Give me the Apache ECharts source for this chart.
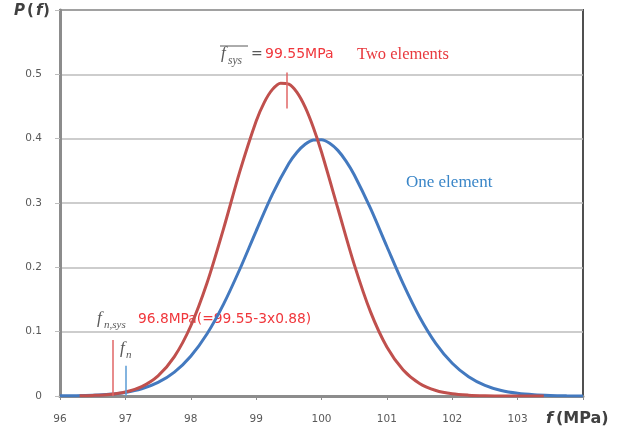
<!DOCTYPE html>
<html>
<head>
<meta charset="utf-8">
<script src="https://cdn.jsdelivr.net/npm/echarts@6/dist/echarts.min.js"></script>
<style>
html, body { margin: 0; padding: 0; background: #fff; }
#chart { width: 630px; height: 431px; }
</style>
</head>
<body>
<div id="chart"></div>
<script>
// strength f (MPa) and probability density
var xOne = [96, 96.25, 96.5, 96.75, 97, 97.25, 97.5, 97.75, 98, 98.25, 98.5, 98.75, 99, 99.25, 99.5, 99.625, 99.75, 99.875,
            100, 100.125, 100.25, 100.375, 100.5, 100.75, 101, 101.25, 101.5, 101.75, 102, 102.25, 102.5, 102.75, 103, 103.25, 103.5, 103.75, 104]
var pOne = [0.0002, 0.0005, 0.0012, 0.0026, 0.0056, 0.0112, 0.0211, 0.0372, 0.0619, 0.0968, 0.1424, 0.197, 0.2564, 0.3138, 0.3613, 0.3789, 0.3913, 0.3979,
            0.3985, 0.393, 0.3818, 0.3651, 0.344, 0.2916, 0.2324, 0.1743, 0.1229, 0.0815, 0.0509, 0.0299, 0.0165, 0.0086, 0.0042, 0.0019, 0.0008, 0.0003, 0.0001]

var xTwo = [96.3, 96.5, 96.75, 97, 97.25, 97.5, 97.75, 98, 98.25, 98.5, 98.75, 99, 99.125, 99.25, 99.375, 99.5, 99.625, 99.75, 99.875,
            100, 100.25, 100.5, 100.75, 101, 101.25, 101.5, 101.75, 102, 102.25, 102.5, 102.75, 103, 103.25, 103.4]
var pTwo = [0.0004, 0.0009, 0.0024, 0.0063, 0.0147, 0.0314, 0.0612, 0.1088, 0.176, 0.2595, 0.3488, 0.4271, 0.4565, 0.4766, 0.4863, 0.4847, 0.472, 0.4491, 0.4175,
            0.3792, 0.2918, 0.2046, 0.1307, 0.0761, 0.0404, 0.0195, 0.0086, 0.0034, 0.0013, 0.0004, 0.0001, 0, 0, 0]

var xTicks = [96, 97, 98, 99, 100, 101, 102, 103]
var meanTwo = 99.47     // f_sys marker
var fnSys = 96.8        // f_n,sys
var fn = 97.0           // f_n

var RED = '#c0504d', BLUE = '#4379bf'

function pairs(xs, ys){
	return xs.map(function(x, i){ return [x, ys[i]] })
}

var chart = echarts.init(document.getElementById('chart'))

function txt(x, y, text, style){
	return { type: 'text', left: x, top: y, style: Object.assign({ text: text, fill: '#595959' }, style) }
}
var serifI = { fontFamily: 'Liberation Serif', fontStyle: 'italic' }

chart.setOption({
	animation: false,
	grid: { left: 60, right: 47, top: 10, bottom: 35, show: true, borderColor: '#505050', borderWidth: 2 },
	xAxis: {
		type: 'value', min: 96, max: 104, interval: 1,
		axisLine: { lineStyle: { color: '#8c8c8c', width: 3 } },
		axisTick: { show: true, length: 4, lineStyle: { color: '#8c8c8c' } },
		axisLabel: {
			color: '#595959', fontSize: 10.5, fontFamily: 'DejaVu Sans', margin: 18,
			formatter: function(v){ return xTicks.indexOf(v) >= 0 ? String(v) : '' }
		},
		splitLine: { show: false }
	},
	yAxis: {
		type: 'value', min: 0, max: 0.6, interval: 0.1,
		axisLine: { show: true, lineStyle: { color: '#8c8c8c', width: 3 } },
		axisTick: { show: true, length: 5, lineStyle: { color: '#bdbdbd' } },
		axisLabel: {
			color: '#595959', fontSize: 10.5, fontFamily: 'DejaVu Sans', margin: 18,
			formatter: function(v){ return v >= 0.59 ? '' : String(Math.round(v * 10) / 10) }
		},
		splitLine: { lineStyle: { color: '#bdbdbd', width: 1.5 } }
	},
	series: [
		{
			name: 'One element', type: 'line', smooth: 0.3, symbol: 'none',
			data: pairs(xOne, pOne),
			lineStyle: { color: BLUE, width: 3 },
			z: 3,
			markLine: {
				symbol: 'none', silent: true, label: { show: false },
				lineStyle: { color: '#5a9bd5', width: 1.5, type: 'solid' },
				data: [[{ coord: [fn, 0] }, { coord: [fn, 0.047] }]]
			}
		},
		{
			name: 'Two elements', type: 'line', smooth: 0.3, symbol: 'none',
			data: pairs(xTwo, pTwo),
			lineStyle: { color: RED, width: 3 },
			z: 4,
			markLine: {
				symbol: 'none', silent: true, label: { show: false },
				lineStyle: { color: '#e06666', width: 1.5, type: 'solid' },
				data: [
					[{ coord: [fnSys, 0] }, { coord: [fnSys, 0.087] }],
					[{ coord: [meanTwo, 0.447] }, { coord: [meanTwo, 0.503] }]
				]
			}
		}
	],
	graphic: [
		// axis titles
		txt(14, 4, 'P', { font: 'italic bold 15px "DejaVu Sans"', fill: '#404040' }),
		txt(27, 4, '(', { font: 'bold 15px "DejaVu Sans"', fill: '#404040' }),
		txt(36, 4, 'f', { font: 'italic bold 15px "DejaVu Sans"', fill: '#404040' }),
		txt(43, 4, ')', { font: 'bold 15px "DejaVu Sans"', fill: '#404040' }),
		txt(546, 411, 'f', { font: 'italic bold 16px "DejaVu Sans"', fill: '#404040' }),
		txt(556, 411, '(MPa)', { font: 'bold 16px "DejaVu Sans"', fill: '#404040' }),
		// mean annotation
		txt(221, 45, 'f', Object.assign({ fontSize: 17 }, serifI)),
		txt(228, 55, 'sys', Object.assign({ fontSize: 11.5 }, serifI)),
		{ type: 'line', shape: { x1: 220, y1: 46, x2: 248, y2: 46 }, style: { stroke: '#595959', lineWidth: 1 } },
		txt(251, 47, '=', { fontSize: 14, fontFamily: 'DejaVu Sans' }),
		txt(265, 47, '99.55MPa', { fontSize: 14, fontFamily: 'DejaVu Sans', fill: '#f0373c' }),
		txt(357, 46, 'Two elements', { fontSize: 16.5, fontFamily: 'Liberation Serif', fill: '#e8383d' }),
		txt(406, 174, 'One element', { fontSize: 17, fontFamily: 'Liberation Serif', fill: '#3a86c8' }),
		// lower annotations
		txt(97, 310, 'f', Object.assign({ fontSize: 17 }, serifI)),
		txt(104, 320, 'n,sys', Object.assign({ fontSize: 11 }, serifI)),
		txt(138, 312, '96.8MPa(=99.55-3x0.88)', { fontSize: 13.8, fontFamily: 'DejaVu Sans', fill: '#f0373c' }),
		txt(120, 340, 'f', Object.assign({ fontSize: 17 }, serifI)),
		txt(126, 350, 'n', Object.assign({ fontSize: 11 }, serifI))
	]
})
</script>
</body>
</html>
